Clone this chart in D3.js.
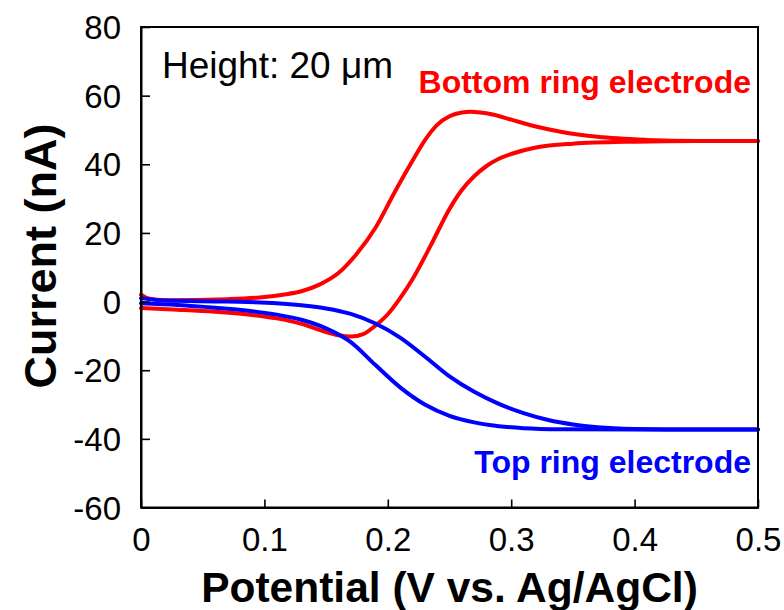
<!DOCTYPE html>
<html>
<head>
<meta charset="utf-8">
<script src="https://cdn.jsdelivr.net/npm/d3@7"></script>
<style>
  html, body { margin: 0; padding: 0; background: #fff; }
  svg { display: block; font-family: "Liberation Sans", Arial, sans-serif; }
</style>
</head>
<body>
<svg id="chart" width="784" height="610"></svg>
<script>
// Cyclic voltammograms of the bottom and top ring electrodes (potential in V, current in nA)
const bottomLowerV = [0, 0.03, 0.06, 0.09, 0.11, 0.13, 0.145, 0.16, 0.17, 0.18, 0.19, 0.20, 0.21, 0.22, 0.235, 0.25, 0.26, 0.27, 0.28, 0.29, 0.30, 0.32, 0.35, 0.40, 0.45, 0.5];
const bottomLowerI = [-1.9, -2.4, -3.0, -3.9, -4.9, -6.5, -8.3, -9.8, -10.2, -9.5, -7.0, -3.7, 1.0, 6.5, 16.5, 27.0, 32.5, 36.5, 39.5, 41.6, 43.0, 44.9, 46.0, 46.6, 46.8, 46.8];

const bottomUpperV = [0, 0.006, 0.02, 0.07, 0.10, 0.115, 0.13, 0.145, 0.16, 0.175, 0.19, 0.205, 0.22, 0.23, 0.24, 0.25, 0.26, 0.267, 0.275, 0.285, 0.30, 0.32, 0.34, 0.37, 0.41, 0.45, 0.5];
const bottomUpperI = [2.0, 0.9, 0.4, 0.7, 1.3, 2.0, 3.0, 5.0, 8.3, 14.0, 21.5, 31.5, 41.0, 47.0, 51.5, 54.0, 55.1, 55.3, 55.1, 54.5, 53.0, 51.0, 49.5, 48.0, 47.1, 46.8, 46.8];

const topUpperV = [0, 0.02, 0.07, 0.11, 0.13, 0.15, 0.17, 0.19, 0.21, 0.23, 0.25, 0.27, 0.29, 0.31, 0.33, 0.35, 0.37, 0.40, 0.45, 0.5];
const topUpperI = [1.0, 0.3, 0.0, -0.5, -1.1, -2.0, -3.6, -6.4, -10.5, -16.0, -21.8, -26.3, -29.8, -32.5, -34.5, -35.8, -36.6, -37.1, -37.3, -37.3];

const topLowerV = [0, 0.03, 0.06, 0.09, 0.11, 0.13, 0.15, 0.17, 0.19, 0.21, 0.23, 0.25, 0.27, 0.29, 0.31, 0.34, 0.40, 0.5];
const topLowerI = [-0.5, -1.0, -1.8, -2.8, -3.8, -5.3, -7.8, -11.8, -18.5, -25.0, -30.0, -33.3, -35.2, -36.3, -36.9, -37.2, -37.3, -37.3];

const xTicks = [0, 0.1, 0.2, 0.3, 0.4, 0.5];
const yTicks = [-60, -40, -20, 0, 20, 40, 60, 80];

const bottomColor = "#ff0000";
const topColor = "#0000ff";

const svg = d3.select("#chart");
const plot = { left: 141, top: 27, right: 758, bottom: 507.5 };

const x = d3.scaleLinear().domain([0, 0.5]).range([plot.left, plot.right]);
const y = d3.scaleLinear().domain([-60, 80]).range([plot.bottom, plot.top]);

const zip = (vs, is) => vs.map((v, k) => [v, is[k]]);

const line = d3.line()
  .x(d => x(d[0]))
  .y(d => y(d[1]))
  .curve(d3.curveMonotoneX);

const curves = svg.append("g")
  .attr("fill", "none")
  .attr("stroke-width", 4)
  .attr("stroke-linejoin", "round")
  .attr("stroke-linecap", "round");

// bottom ring electrode (red), both sweep directions
curves.append("path").attr("d", line(zip(bottomLowerV, bottomLowerI))).attr("stroke", bottomColor);
curves.append("path").attr("d", line(zip(bottomUpperV, bottomUpperI))).attr("stroke", bottomColor);
// top ring electrode (blue)
curves.append("path").attr("d", line(zip(topLowerV, topLowerI))).attr("stroke", topColor);
curves.append("path").attr("d", line(zip(topUpperV, topUpperI))).attr("stroke", topColor);

// frame
svg.append("rect")
  .attr("x", plot.left).attr("y", plot.top)
  .attr("width", plot.right - plot.left).attr("height", plot.bottom - plot.top)
  .attr("fill", "none").attr("stroke", "#000").attr("stroke-width", 2);

// axes with inward ticks
const xAxis = d3.axisBottom(x).tickValues(xTicks).tickSizeInner(-8).tickSizeOuter(0)
  .tickFormat(d => d === 0 ? "0" : d3.format(".1f")(d)).tickPadding(20);
const yAxis = d3.axisLeft(y).tickValues(yTicks).tickSizeInner(-9).tickSizeOuter(0)
  .tickFormat(d => String(d)).tickPadding(20);

const gx = svg.append("g").attr("transform", `translate(0,${plot.bottom})`).call(xAxis);
const gy = svg.append("g").attr("transform", `translate(${plot.left},0)`).call(yAxis);

[gx, gy].forEach(g => {
  g.select(".domain").attr("stroke", "#000").attr("stroke-width", 2);
  g.selectAll(".tick line").attr("stroke", "#000").attr("stroke-width", 1.6);
  g.selectAll(".tick text")
    .attr("font-family", "'Liberation Sans', Arial, sans-serif")
    .attr("font-size", 33).attr("fill", "#000");
});
gx.selectAll(".tick text").attr("dy", "0.71em");
gy.selectAll(".tick text").attr("dy", "0.35em");

// axis titles
svg.append("text")
  .attr("x", (plot.left + plot.right) / 2).attr("y", 602)
  .attr("text-anchor", "middle")
  .attr("font-size", 42.5).attr("font-weight", "bold")
  .text("Potential (V vs. Ag/AgCl)");

svg.append("text")
  .attr("transform", `translate(56,256) rotate(-90)`)
  .attr("text-anchor", "middle")
  .attr("font-size", 45).attr("font-weight", "bold")
  .text("Current (nA)");

// annotations
svg.append("text")
  .attr("x", 162).attr("y", 78)
  .attr("font-size", 37)
  .text("Height: 20 μm");

svg.append("text")
  .attr("x", 751).attr("y", 93)
  .attr("text-anchor", "end")
  .attr("font-size", 32).attr("font-weight", "bold")
  .attr("fill", bottomColor)
  .text("Bottom ring electrode");

svg.append("text")
  .attr("x", 751).attr("y", 473)
  .attr("text-anchor", "end")
  .attr("font-size", 32).attr("font-weight", "bold")
  .attr("fill", topColor)
  .text("Top ring electrode");
</script>
</body>
</html>
